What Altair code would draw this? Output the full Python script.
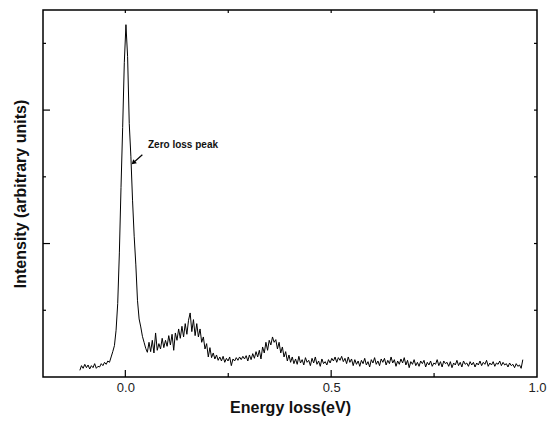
import altair as alt
import numpy as np
import pandas as pd

# Spectrum sampling: uniform energy grid (eV)
E_START = -0.1105
E_STEP = 0.004

# Intensity (arbitrary units), one value per grid point
baseline_left = [0.10, 0.17, 0.13, 0.19, 0.14, 0.18, 0.12, 0.17, 0.14, 0.20,
                 0.13, 0.16, 0.15, 0.20, 0.17, 0.22, 0.19, 0.24, 0.22, 0.30]
zero_loss = [0.38, 0.47, 0.70, 1.10, 1.86, 2.84, 3.74, 4.71, 5.28, 4.80,
             3.80, 3.30, 2.65, 2.11, 1.68, 1.15, 0.87, 0.75, 0.61, 0.52,
             0.43, 0.37]
first_band = [0.52, 0.38, 0.55, 0.36, 0.66, 0.40, 0.50, 0.42, 0.58, 0.44,
              0.55, 0.46, 0.62, 0.48, 0.64, 0.40, 0.66, 0.55, 0.72, 0.58,
              0.76, 0.60, 0.80, 0.64, 0.85, 0.96, 0.68, 0.86, 0.62, 0.80,
              0.60, 0.72, 0.52, 0.60, 0.42, 0.50, 0.30, 0.44, 0.29, 0.36,
              0.27, 0.33, 0.25, 0.30, 0.24, 0.31, 0.22, 0.28, 0.24, 0.30,
              0.17, 0.27, 0.24, 0.29, 0.25, 0.30, 0.26, 0.31, 0.27, 0.32]
second_band = [0.24, 0.33, 0.26, 0.35, 0.28, 0.38, 0.30, 0.40, 0.27, 0.45,
               0.36, 0.52, 0.40, 0.55, 0.48, 0.60, 0.52, 0.56, 0.42, 0.52,
               0.36, 0.45, 0.30, 0.38, 0.24, 0.33, 0.22]
tail = [0.30, 0.20, 0.27, 0.19, 0.31, 0.21, 0.26, 0.18, 0.29, 0.22,
        0.25, 0.17, 0.28, 0.21, 0.30, 0.19, 0.24, 0.16, 0.27, 0.20,
        0.23, 0.18, 0.26, 0.21, 0.28, 0.24, 0.30, 0.22, 0.29, 0.25,
        0.31, 0.23, 0.28, 0.20, 0.30, 0.22, 0.27, 0.17, 0.26, 0.19,
        0.24, 0.16, 0.25, 0.20, 0.28, 0.18, 0.23, 0.15, 0.26, 0.21,
        0.29, 0.19, 0.24, 0.17, 0.27, 0.22, 0.28, 0.18, 0.25, 0.20,
        0.30, 0.21, 0.26, 0.16, 0.24, 0.19, 0.27, 0.21, 0.29, 0.18,
        0.25, 0.14, 0.23, 0.19, 0.26, 0.17, 0.22, 0.16, 0.24, 0.20,
        0.25, 0.15, 0.22, 0.18, 0.24, 0.16, 0.21, 0.19, 0.26, 0.17,
        0.23, 0.15, 0.24, 0.20, 0.22, 0.16, 0.23, 0.14, 0.21, 0.18,
        0.25, 0.17, 0.22, 0.15, 0.24, 0.19, 0.21, 0.16, 0.23, 0.18,
        0.22, 0.15, 0.21, 0.18, 0.24, 0.17, 0.22, 0.19, 0.25, 0.16,
        0.21, 0.18, 0.23, 0.16, 0.21, 0.19, 0.24, 0.17, 0.22, 0.18,
        0.20, 0.15, 0.21, 0.17, 0.19, 0.14, 0.20, 0.16, 0.18, 0.13,
        0.26]

intensity = baseline_left + zero_loss + first_band + second_band + tail
energy = E_START + E_STEP * np.arange(len(intensity))

# Axis ticks (drawn inward)
X_LABELS = [0.0, 0.5, 1.0]
X_MAJOR = [0.0, 0.5]
X_MINOR = [0.25, 0.75]
Y_MAJOR = [2, 4]
Y_MINOR = [1, 3, 5]

# Annotation
NOTE_TEXT = ["Zero loss peak"]
NOTE_POS = [0.055, 3.43]
ARROW_TAIL = [0.0413, 3.33]
ARROW_TIP = [0.0195, 3.21]

W, H = 494, 367
FONT = "Liberation Sans"

xs = alt.Scale(domain=[-0.2, 1.0], nice=False, zero=False)
ys = alt.Scale(domain=[0, 5.5], nice=False, zero=False)
X_TITLE = "Energy loss(eV)"
Y_TITLE = "Intensity (arbitrary units)"

spec = pd.DataFrame({"energy": energy, "intensity": intensity})

line = alt.Chart(spec).mark_line(color="black", strokeWidth=1).encode(
    x=alt.X("energy:Q", scale=xs, title=X_TITLE,
            axis=alt.Axis(values=X_LABELS, format=".1f", ticks=False, domain=False,
                          grid=False, labelFontSize=13, labelPadding=4,
                          labelColor="#222", labelFlush=False, labelFont=FONT,
                          titleFont=FONT, titleFontSize=16,
                          titleFontWeight="bold", titlePadding=5, titleColor="#111")),
    y=alt.Y("intensity:Q", scale=ys, title=Y_TITLE,
            axis=alt.Axis(labels=False, ticks=False, domain=False, grid=False,
                          titleFont=FONT, titleFontSize=16, titleFontWeight="bold",
                          titlePadding=15, titleColor="#111")),
)


def xticks(values, length, top=False):
    df = pd.DataFrame({"energy": values})
    y0, y1 = (0, length) if top else (H, H - length)
    return alt.Chart(df).mark_rule(color="black", strokeWidth=1.2).encode(
        x=alt.X("energy:Q", title=X_TITLE),
        y=alt.value(y0), y2=alt.value(y1))


def yticks(values, length, right=False):
    df = pd.DataFrame({"intensity": values})
    x0, x1 = (W, W - length) if right else (0, length)
    return alt.Chart(df).mark_rule(color="black", strokeWidth=1.2).encode(
        y=alt.Y("intensity:Q", title=Y_TITLE),
        x=alt.value(x0), x2=alt.value(x1))


ticks = [
    xticks(X_MAJOR, 7), xticks(X_MINOR, 4),
    xticks(X_MAJOR + X_MINOR, 3, top=True),
    yticks(Y_MAJOR, 7), yticks(Y_MINOR, 3),
    yticks(Y_MAJOR + Y_MINOR, 3, right=True),
]

note = alt.Chart(pd.DataFrame({"energy": [NOTE_POS[0]], "intensity": [NOTE_POS[1]],
                               "t": NOTE_TEXT})).mark_text(
    align="left", baseline="alphabetic", font=FONT, fontSize=10, fontWeight="bold",
    color="#111").encode(
    x=alt.X("energy:Q", title=X_TITLE), y=alt.Y("intensity:Q", title=Y_TITLE), text="t:N")

arrow_df = pd.DataFrame({"energy": [ARROW_TAIL[0]], "intensity": [ARROW_TAIL[1]],
                         "e2": [ARROW_TIP[0]], "i2": [ARROW_TIP[1]]})
arrow = alt.Chart(arrow_df).mark_rule(color="black", strokeWidth=1.2).encode(
    x=alt.X("energy:Q", title=X_TITLE), y=alt.Y("intensity:Q", title=Y_TITLE),
    x2="e2:Q", y2="i2:Q")
head = alt.Chart(pd.DataFrame({"energy": [ARROW_TIP[0]], "intensity": [ARROW_TIP[1]]})).mark_point(
    shape="triangle-up", filled=True, color="black", size=28, angle=228, opacity=1).encode(
    x=alt.X("energy:Q", title=X_TITLE), y=alt.Y("intensity:Q", title=Y_TITLE))

chart = alt.layer(line, *ticks, arrow, head, note).properties(
    width=W, height=H,
    autosize=alt.AutoSizeParams(type="none"),
    padding={"left": 43, "top": 10, "right": 10, "bottom": 44},
    background="white",
).configure_view(stroke="black", strokeWidth=1.5)

chart.save("out.html", embed_options={"renderer": "svg", "actions": False})
